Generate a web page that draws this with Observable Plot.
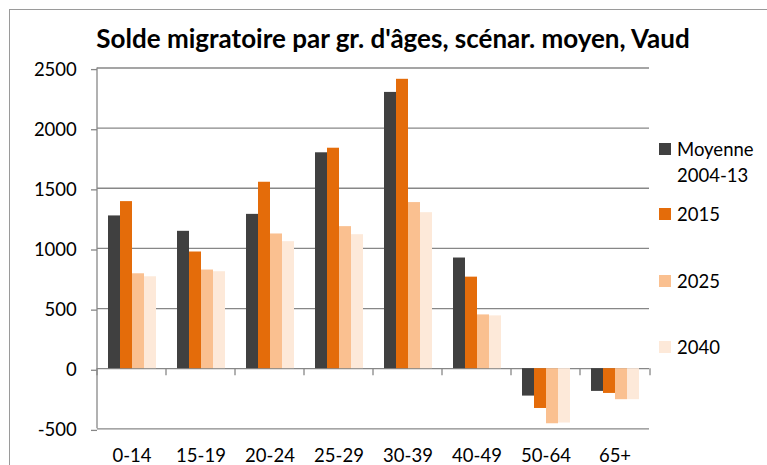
<!DOCTYPE html>
<html>
<head>
<meta charset="utf-8">
<script src="https://cdn.jsdelivr.net/npm/d3@7"></script>
<script src="https://cdn.jsdelivr.net/npm/@observablehq/plot@0.6"></script>
<style>
  html, body { margin: 0; padding: 0; background: #fff; }
  #wrap { position: relative; width: 767px; height: 465px; overflow: hidden; font-family: Lato, "Liberation Sans", sans-serif; }
  #border { position: absolute; left: 9px; top: 9px; width: 900px; height: 600px; border: 1px solid #9a9a9a; box-sizing: border-box; }
  #title { position: absolute; left: 0; width: 786px; top: 25px; text-align: center; font-weight: bold; font-size: 26px; line-height: 1; color: #000; white-space: nowrap; }
  #chart { position: absolute; left: 0; top: 0; }
  .leg { position: absolute; left: 659px; font-size: 18.5px; line-height: 1; color: #000; }
  .leg .sw { position: absolute; left: 0; width: 12px; height: 12px; }
  .leg .tx { position: absolute; left: 18px; white-space: nowrap; }
</style>
</head>
<body>
<div id="wrap">
  <div id="border"></div>
  <div id="title">Solde migratoire par gr. d'âges, scénar. moyen, Vaud</div>
  <div id="chart"></div>
  <div id="legend"></div>
</div>
<script>
const categories = ["0-14", "15-19", "20-24", "25-29", "30-39", "40-49", "50-64", "65+"];
const seriesNames = ["Moyenne 2004-13", "2015", "2025", "2040"];
const seriesColors = ["#404040", "#E46C0A", "#FAC090", "#FDE9D9"];
const moyenne = [1270, 1142, 1283, 1795, 2297, 920, -228, -189];
const v2015 = [1389, 970, 1550, 1833, 2406, 761, -331, -206];
const v2025 = [789, 820, 1120, 1181, 1381, 447, -458, -258];
const v2040 = [764, 806, 1056, 1114, 1297, 439, -452, -258];
const yTicks = [-500, 0, 500, 1000, 1500, 2000, 2500];

const seriesValues = [moyenne, v2015, v2025, v2040];
const data = [];
categories.forEach((c, i) => {
  seriesNames.forEach((s, j) => data.push({cat: c, series: s, value: seriesValues[j][i]}));
});

const gridColor = "#878787";

const chart = Plot.plot({
  width: 767,
  height: 465,
  marginLeft: 93,
  marginRight: 115,
  marginTop: 67.5,
  marginBottom: 36.7,
  style: {fontFamily: "Lato, 'Liberation Sans', sans-serif", fontSize: "18.5px", color: "#000", background: "transparent"},
  fx: {domain: categories, padding: 0, axis: "bottom", tickSize: 0, tickPadding: 20.3, label: null},
  x: {domain: seriesNames, paddingInner: 0, paddingOuter: 0.78, axis: null},
  y: {domain: [-500, 2500], ticks: yTicks, tickSize: 0, label: null, axis: null},
  color: {domain: seriesNames, range: seriesColors},
  marks: [
    Plot.ruleY(yTicks, {stroke: gridColor, strokeWidth: 1.3}),
    Plot.barY(data, {fx: "cat", x: "series", y: "value", fill: "series"}),
    // axis line at left and boundary ticks below zero
    Plot.ruleX([categories[0]], {fx: d => d, x: null, dx: -35, y1: -500, y2: 2500, stroke: gridColor, strokeWidth: 1.3}),
    Plot.ruleX(categories, {fx: d => d, x: null, dx: -35, y1: 0, y2: -58, stroke: gridColor, strokeWidth: 1.3}),
    Plot.ruleX([categories[categories.length - 1]], {fx: d => d, x: null, dx: 35, y1: 0, y2: -58, stroke: gridColor, strokeWidth: 1.3}),
    Plot.axisY(yTicks, {anchor: "left", tickSize: 6, tickPadding: 14.7, dy: 1.6, stroke: gridColor, strokeWidth: 1.3, fill: "#000", label: null, tickFormat: d => String(d)})
  ]
});
document.getElementById("chart").appendChild(chart);

// Legend
const legendLines = [["Moyenne", "2004-13"], ["2015"], ["2025"], ["2040"]];
const legendTops = [142.7, 208.3, 274.7, 341];
const legend = document.getElementById("legend");
seriesNames.forEach((s, j) => {
  const item = document.createElement("div");
  item.className = "leg";
  item.style.top = legendTops[j] + "px";
  const sw = document.createElement("div");
  sw.className = "sw";
  sw.style.background = seriesColors[j];
  sw.style.top = "0px";
  item.appendChild(sw);
  legendLines[j].forEach((line, k) => {
    const tx = document.createElement("div");
    tx.className = "tx";
    tx.textContent = line;
    tx.style.top = (-3.1 + k * 26.7) + "px";
    item.appendChild(tx);
  });
  legend.appendChild(item);
});
</script>
</body>
</html>
